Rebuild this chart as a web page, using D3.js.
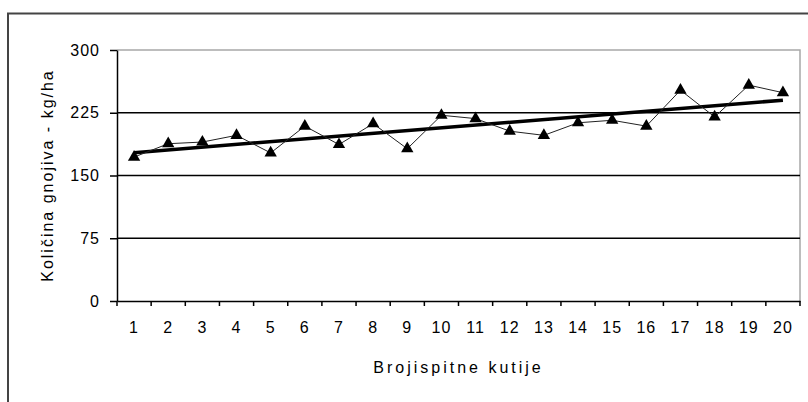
<!DOCTYPE html>
<html>
<head>
<meta charset="utf-8">
<script src="https://cdn.jsdelivr.net/npm/d3@7"></script>
<style>
  body { margin: 0; background: #fff; }
  text { font-family: "Liberation Sans", Arial, sans-serif; fill: #000; }
</style>
</head>
<body>
<svg id="vis" width="808" height="402"></svg>
<script>
// box numbers and fertilizer amounts (kg/ha)
const BOXES = d3.range(1, 21).map(String);
const AMOUNTS = [172, 188, 190, 198, 177, 209, 187, 212, 182, 222,
                 218, 203, 198, 213, 216, 209, 252, 220, 258, 249];
const Y_TICKS = [0, 75, 150, 225, 300];
const X_TITLE = "Brojispitne kutije";
const Y_TITLE = "Količina gnojiva - kg/ha";

const svg = d3.select("#vis");

const LEFT = 117, RIGHT = 800, TOP = 50, BOTTOM = 301;

const xscale = d3.scaleBand().domain(BOXES).range([LEFT, RIGHT]);
const xedge = d3.scaleLinear().domain([0, BOXES.length]).range([LEFT, RIGHT]);
const yscale = d3.scaleLinear().domain([0, 300]).range([BOTTOM, TOP]);

function xc(i) {
    return xscale(BOXES[i]) + xscale.bandwidth() / 2;
}

function main() {
    drawFrame();
    drawGrid();
    drawAxes();
    drawTrend();
    drawSeries();
    drawTitles();
}

function drawFrame() {
    // outer chart frame, runs off the right and bottom edges
    svg.append("rect")
        .attr("x", 8).attr("y", 13.5)
        .attr("width", 900).attr("height", 500)
        .attr("fill", "none")
        .attr("stroke", "#444")
        .attr("stroke-width", 2);

    // plot area border (top + right) is grey
    svg.append("path")
        .attr("d", `M${LEFT},${yscale(300)}H${RIGHT}V${BOTTOM}`)
        .attr("fill", "none")
        .attr("stroke", "#a8a8a8")
        .attr("stroke-width", 1.5);
}

function drawGrid() {
    svg.selectAll(".grid").data(Y_TICKS.filter(d => d > 0 && d < 300)).join("line")
        .attr("class", "grid")
        .attr("x1", LEFT).attr("x2", RIGHT)
        .attr("y1", d => yscale(d)).attr("y2", d => yscale(d))
        .attr("stroke", "#000")
        .attr("stroke-width", 1.5);
}

function drawAxes() {
    const yaxis = svg.append("g")
        .attr("transform", `translate(${LEFT},0)`)
        .call(d3.axisLeft(yscale).tickValues(Y_TICKS).tickSize(7).tickPadding(10).tickSizeOuter(0));
    yaxis.select(".domain").attr("stroke-width", 1.5);
    yaxis.selectAll(".tick line").attr("stroke-width", 1.5);
    yaxis.selectAll("text")
        .style("font-size", "16px")
        .style("letter-spacing", "1px");

    // x axis: labels centred in the bands
    const xaxis = svg.append("g")
        .attr("transform", `translate(0,${BOTTOM})`)
        .call(d3.axisBottom(xscale).tickSize(0).tickPadding(21));
    xaxis.select(".domain").attr("stroke-width", 1.5);
    xaxis.selectAll("text")
        .style("font-size", "16px")
        .style("letter-spacing", "1px");

    // tick marks sit between the categories
    svg.selectAll(".xtick").data(d3.range(0, BOXES.length + 1)).join("line")
        .attr("class", "xtick")
        .attr("x1", d => xedge(d)).attr("x2", d => xedge(d))
        .attr("y1", BOTTOM).attr("y2", BOTTOM + 5)
        .attr("stroke", "#000")
        .attr("stroke-width", 1.5);
}

function drawTrend() {
    // least squares line through the points
    const xs = AMOUNTS.map((_, i) => i + 1);
    const mx = d3.mean(xs), my = d3.mean(AMOUNTS);
    const sxy = d3.sum(xs, (x, i) => (x - mx) * (AMOUNTS[i] - my));
    const sxx = d3.sum(xs, x => (x - mx) * (x - mx));
    const slope = sxy / sxx;
    const b = my - slope * mx;

    svg.append("line")
        .attr("x1", xc(0)).attr("y1", yscale(b + slope * 1))
        .attr("x2", xc(BOXES.length - 1)).attr("y2", yscale(b + slope * BOXES.length))
        .attr("stroke", "#000")
        .attr("stroke-width", 3.5);
}

function drawSeries() {
    const line = d3.line()
        .x((_, i) => xc(i))
        .y(d => yscale(d));

    svg.append("path")
        .attr("d", line(AMOUNTS))
        .attr("fill", "none")
        .attr("stroke", "#222")
        .attr("stroke-width", 1);

    const tri = d3.symbol().type(d3.symbolTriangle).size(66);
    svg.selectAll(".points").data(AMOUNTS).join("path")
        .attr("class", "points")
        .attr("d", tri)
        .attr("transform", (d, i) => `translate(${xc(i)},${yscale(d)})`)
        .attr("fill", "#000");
}

function drawTitles() {
    svg.append("text")
        .attr("x", (LEFT + RIGHT) / 2)
        .attr("y", 373)
        .attr("text-anchor", "middle")
        .style("font-size", "16px")
        .style("letter-spacing", "3px")
        .text(X_TITLE);

    svg.append("text")
        .attr("transform", `translate(53,${(TOP + BOTTOM) / 2}) rotate(-90)`)
        .attr("text-anchor", "middle")
        .style("font-size", "16px")
        .style("letter-spacing", "2px")
        .text(Y_TITLE);
}

main();
</script>
</body>
</html>
